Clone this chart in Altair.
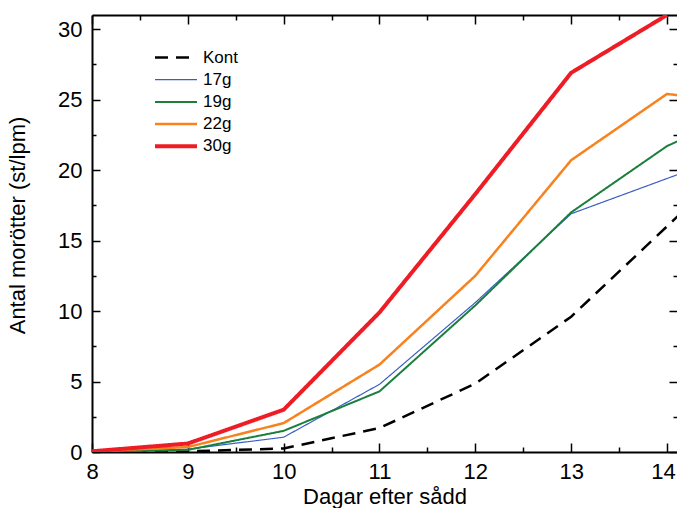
import altair as alt
import pandas as pd

days = [8, 9, 10, 11, 12, 13, 14, 15]
series_names = ["Kont", "17g", "19g", "22g", "30g"]
kont = [0.0, 0.05, 0.25, 1.7, 4.85, 9.6, 16.0, 22.5]
g17 = [0.0, 0.2, 1.05, 4.8, 10.6, 16.9, 19.4, 21.9]
g19 = [0.0, 0.15, 1.5, 4.3, 10.4, 17.0, 21.7, 24.8]
g22 = [0.05, 0.35, 2.05, 6.2, 12.5, 20.7, 25.4, 24.6]
g30 = [0.05, 0.6, 3.0, 9.9, 18.3, 26.9, 31.0]

colors = ["#000000", "#3A5FC4", "#1A7F3C", "#F7821E", "#EE1C25"]
widths = [2.5, 1.2, 2.0, 2.5, 4.0]
dashes = [[13, 8], [1, 0], [1, 0], [1, 0], [1, 0]]

x_ticks = [8, 8.5, 9, 9.5, 10, 10.5, 11, 11.5, 12, 12.5, 13, 13.5, 14]
x_labels = [8, 9, 10, 11, 12, 13, 14]
y_ticks = [0, 2.5, 5, 7.5, 10, 12.5, 15, 17.5, 20, 22.5, 25, 27.5, 30]
y_labels = [0, 5, 10, 15, 20, 25, 30]

rows = []
for name, vals in zip(series_names, [kont, g17, g19, g22, g30]):
    for d, v in zip(days, vals):
        rows.append({"day": d, "value": v, "series": name})
df = pd.DataFrame(rows)

W, H = 585, 437
FONT = "Liberation Sans"

xscale = alt.Scale(domain=[8, 14.1045], nice=False, zero=False)
yscale = alt.Scale(domain=[0, 31], nice=False, zero=False)

x_major = {"condition": {"test": "datum.value % 1 === 0", "value": 9}, "value": 5}
y_major = {"condition": {"test": "datum.value % 5 === 0", "value": 8}, "value": 4}
last_label_shift = {"condition": {"test": "datum.value === 14", "value": -4}, "value": 0}

legend_cfg = dict(title=None, orient="none", legendX=43.5, legendY=34,
                  symbolType="stroke", symbolSize=1764, clipHeight=17,
                  symbolOffset=17.5,
                  rowPadding=4.2, labelOffset=4, padding=0,
                  labelFont=FONT, labelFontSize=17, labelColor="black")

base = alt.Chart(df)

lines = base.mark_line(clip=True).encode(
    x=alt.X("day:Q", scale=xscale, axis=alt.Axis(
        orient="bottom", values=x_labels, ticks=False, grid=False,
        domainColor="black", domainWidth=2,
        labelFont=FONT, labelFontSize=22, labelColor="black", labelPadding=9,
        labelFlush=False, labelOverlap=False, labelOffset=last_label_shift,
        title="Dagar efter sådd", titleFont=FONT, titleFontSize=22,
        titleFontWeight="normal", titleColor="black",
        titleY=51, titleBaseline="alphabetic")),
    y=alt.Y("value:Q", scale=yscale, axis=alt.Axis(
        orient="left", values=y_labels, ticks=False, grid=False,
        domainColor="black", domainWidth=2,
        labelFont=FONT, labelFontSize=22, labelColor="black", labelPadding=10,
        labelOverlap=False,
        title="Antal morötter (st/lpm)", titleFont=FONT, titleFontSize=22,
        titleFontWeight="normal", titleColor="black",
        titleX=-68, titleY=210, titleBaseline="alphabetic")),
    color=alt.Color("series:N", scale=alt.Scale(domain=series_names, range=colors),
                    legend=alt.Legend(**legend_cfg)),
    strokeDash=alt.StrokeDash("series:N", scale=alt.Scale(domain=series_names, range=dashes),
                              legend=alt.Legend(**legend_cfg)),
    strokeWidth=alt.StrokeWidth("series:N",
                                scale=alt.Scale(type="ordinal", domain=series_names, range=widths),
                                legend=alt.Legend(**legend_cfg)),
    order=alt.Order("series:N"),
)

# inward ticks on bottom and left edges
ticks_in_a = base.mark_point(opacity=0).encode(
    x=alt.X("day:Q", scale=xscale, axis=alt.Axis(
        orient="top", offset=-H, values=x_ticks, labels=False, domain=False, grid=False,
        tickSize=x_major, tickColor="black", tickWidth=1.5, title=None)),
    y=alt.Y("value:Q", scale=yscale, axis=alt.Axis(
        orient="right", offset=-W, values=y_ticks, labels=False, domain=False, grid=False,
        tickSize=y_major, tickColor="black", tickWidth=1.5, title=None)),
)

# inward ticks on top (with border line) and right edges
ticks_in_b = base.mark_point(opacity=0).encode(
    x=alt.X("day:Q", scale=xscale, axis=alt.Axis(
        orient="bottom", offset=-H, values=x_ticks, labels=False, domain=True,
        domainColor="black", domainWidth=2, grid=False,
        tickSize=x_major, tickColor="black", tickWidth=1.5, title=None)),
    y=alt.Y("value:Q", scale=yscale, axis=alt.Axis(
        orient="left", offset=-W, values=y_ticks, labels=False, domain=False, grid=False,
        tickSize=y_major, tickColor="black", tickWidth=1.5, title=None)),
)

chart = alt.layer(lines, ticks_in_a, ticks_in_b).resolve_axis(
    x="independent", y="independent"
).properties(
    width=W, height=H,
    autosize=alt.AutoSizeParams(type="none"),
    padding={"left": 84, "top": 7, "right": 0, "bottom": 56},
    background="white",
).configure_view(strokeWidth=0)

chart.save("out.html", embed_options={"renderer": "svg", "actions": False})
